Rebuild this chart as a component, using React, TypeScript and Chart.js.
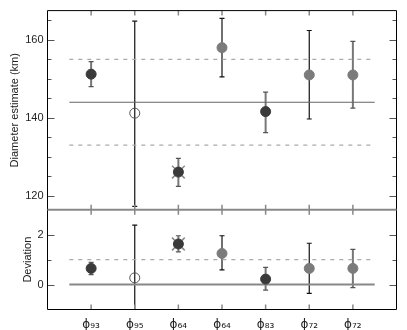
import React, { useEffect, useRef } from "react";
import { Chart, registerables } from "chart.js";

Chart.register(...registerables);

// ---- data ----
const xPositions = [1, 2, 3, 4, 5, 6, 7];
const xLabels = ["ϕ₉₃", "ϕ₉₅", "ϕ₆₄", "ϕ₆₄", "ϕ₈₃", "ϕ₇₂", "ϕ₇₂"];

const diameter = [151.2, 141.2, 126.1, 158.0, 141.6, 151.0, 151.0];
const diameterLow = [148.0, 117.3, 122.4, 150.5, 136.2, 139.7, 142.5];
const diameterHigh = [154.4, 164.8, 129.6, 165.5, 146.6, 162.4, 159.6];

const deviation = [0.65, 0.27, 1.63, 1.25, 0.22, 0.65, 0.65];
const deviationLow = [0.4, -2.0, 1.31, 0.59, -0.22, -0.35, -0.12];
const deviationHigh = [0.89, 2.39, 1.96, 1.96, 0.69, 1.66, 1.41];

const errorKind = ["gray", "black", "gray", "black", "gray", "black", "gray"];
const markerKind = ["dark", "open", "darkx", "gray", "dark", "gray", "gray"];

const meanDiameter = 144;
const diameterBand = [133, 155];
const deviationZero = 0;
const deviationOne = 1;
const refSpan = [0.5, 7.5];

const topMajor = [120, 140, 160];
const topMinor = [125, 130, 135, 145, 150, 155, 165];
const bottomMajor = [0, 2];
const bottomMinor = [1];

const topRange = [116.4, 167.5];
const bottomRange = [-1, 3];
const xRange = [0, 8];

const DARK = "#3a3a3a";
const GRAY = "#7b7b7b";

function pts(vals: number[], filter: (i: number) => boolean) {
  const out: { x: number; y: number }[] = [];
  vals.forEach((v, i) => {
    if (filter(i)) out.push({ x: xPositions[i], y: v });
  });
  return out;
}

function refLine(y: number, axis: string, color: string, width: number, dash: number[]) {
  return {
    type: "line" as const,
    data: [
      { x: refSpan[0], y },
      { x: refSpan[1], y },
    ],
    yAxisID: axis,
    showLine: true,
    borderColor: color,
    borderWidth: width,
    borderDash: dash,
    pointRadius: 0,
    fill: false,
    order: 10,
  };
}

function markerSets(vals: number[], axis: string) {
  return [
    {
      data: pts(vals, (i) => markerKind[i] === "darkx"),
      yAxisID: axis,
      pointStyle: "crossRot",
      pointRadius: 9,
      borderColor: "#8a8a8a",
      borderWidth: 1.5,
      backgroundColor: "#8a8a8a",
      order: 5,
    },
    {
      data: pts(vals, (i) => markerKind[i] === "dark" || markerKind[i] === "darkx"),
      yAxisID: axis,
      pointStyle: "circle",
      pointRadius: 5,
      backgroundColor: DARK,
      borderColor: DARK,
      borderWidth: 1,
      order: 1,
    },
    {
      data: pts(vals, (i) => markerKind[i] === "gray"),
      yAxisID: axis,
      pointStyle: "circle",
      pointRadius: 5,
      backgroundColor: GRAY,
      borderColor: GRAY,
      borderWidth: 1,
      order: 1,
    },
    {
      data: pts(vals, (i) => markerKind[i] === "open"),
      yAxisID: axis,
      pointStyle: "circle",
      pointRadius: 5,
      backgroundColor: "rgba(0,0,0,0)",
      borderColor: "#555",
      borderWidth: 1,
      order: 1,
    },
  ];
}

const panelPlugin = {
  id: "panelDecor",
  beforeDatasetsDraw(chart: any) {
    const ctx = chart.ctx as CanvasRenderingContext2D;
    const { left, right } = chart.chartArea;
    const xs = chart.scales.x;
    const drawErr = (ys: any, lo: number[], hi: number[]) => {
      xPositions.forEach((xv, i) => {
        const px = xs.getPixelForValue(xv);
        const y1 = ys.getPixelForValue(lo[i]);
        const y2 = ys.getPixelForValue(hi[i]);
        const black = errorKind[i] === "black";
        ctx.strokeStyle = black ? "#111" : "#777";
        ctx.lineWidth = black ? 1.2 : 2;
        ctx.beginPath();
        ctx.moveTo(px, y1);
        ctx.lineTo(px, y2);
        ctx.stroke();
        ctx.lineWidth = 1.2;
        ctx.strokeStyle = black ? "#111" : "#555";
        ctx.beginPath();
        ctx.moveTo(px - 2.5, y1);
        ctx.lineTo(px + 2.5, y1);
        ctx.moveTo(px - 2.5, y2);
        ctx.lineTo(px + 2.5, y2);
        ctx.stroke();
      });
    };
    ctx.save();
    ctx.beginPath();
    ctx.rect(left, chart.scales.y.top, right - left, chart.scales.y.bottom - chart.scales.y.top);
    ctx.clip();
    drawErr(chart.scales.y, diameterLow, diameterHigh);
    ctx.restore();
    ctx.save();
    ctx.beginPath();
    ctx.rect(left, chart.scales.y2.top, right - left, chart.scales.y2.bottom - chart.scales.y2.top);
    ctx.clip();
    drawErr(chart.scales.y2, deviationLow, deviationHigh);
    ctx.restore();
  },
  afterDatasetsDraw(chart: any) {
    const ctx = chart.ctx as CanvasRenderingContext2D;
    const { left, right, top, bottom } = chart.chartArea;
    const xs = chart.scales.x;
    const yTop = chart.scales.y;
    const yBot = chart.scales.y2;
    const sep = yTop.bottom;
    ctx.save();
    const yTicks = (ys: any, vals: number[], len: number) => {
      ctx.strokeStyle = "#555";
      ctx.lineWidth = 1;
      ctx.beginPath();
      vals.forEach((v) => {
        const py = Math.round(ys.getPixelForValue(v)) + 0.5;
        ctx.moveTo(left, py);
        ctx.lineTo(left + len, py);
        ctx.moveTo(right, py);
        ctx.lineTo(right - len, py);
      });
      ctx.stroke();
    };
    yTicks(yTop, topMajor, 7);
    yTicks(yTop, topMinor, 4);
    yTicks(yBot, bottomMajor, 7);
    yTicks(yBot, bottomMinor, 4);
    ctx.strokeStyle = "#888";
    ctx.lineWidth = 1.5;
    ctx.beginPath();
    xPositions.forEach((xv) => {
      const px = xs.getPixelForValue(xv);
      ctx.moveTo(px, top);
      ctx.lineTo(px, top + 5);
      ctx.moveTo(px, sep - 5);
      ctx.lineTo(px, sep + 5);
      ctx.moveTo(px, bottom);
      ctx.lineTo(px, bottom - 5);
    });
    ctx.stroke();
    ctx.strokeStyle = "#000";
    ctx.lineWidth = 1;
    ctx.beginPath();
    ctx.moveTo(left, top);
    ctx.lineTo(right, top);
    ctx.lineTo(right, bottom);
    ctx.lineTo(left, bottom);
    ctx.lineTo(left, top);
    ctx.stroke();
    ctx.strokeStyle = "#888";
    ctx.lineWidth = 2;
    ctx.beginPath();
    ctx.moveTo(left, sep);
    ctx.lineTo(right, sep);
    ctx.stroke();
    ctx.restore();
  },
};

export default function App() {
  const ref = useRef<HTMLCanvasElement | null>(null);
  useEffect(() => {
    document.body.style.margin = "0";
    if (!ref.current) return;
    const tickFont = { family: "'Liberation Sans', Arial, sans-serif", size: 11 };
    const chart = new Chart(ref.current, {
      type: "scatter",
      data: {
        datasets: [
          refLine(meanDiameter, "y", "#666", 1.2, []),
          refLine(diameterBand[0], "y", "#aaa", 1.2, [4, 5]),
          refLine(diameterBand[1], "y", "#aaa", 1.2, [4, 5]),
          refLine(deviationZero, "y2", "#888", 2, []),
          refLine(deviationOne, "y2", "#aaa", 1.2, [4, 5]),
          ...markerSets(diameter, "y"),
          ...markerSets(deviation, "y2"),
        ] as any,
      },
      options: {
        animation: false,
        responsive: false,
        events: [],
        layout: { padding: { top: 4.5, right: 3.5, left: 0, bottom: 0 } },
        plugins: { legend: { display: false }, tooltip: { enabled: false } },
        scales: {
          x: {
            type: "linear",
            min: xRange[0],
            max: xRange[1],
            grid: { display: false, drawTicks: false },
            border: { display: false },
            afterBuildTicks: (s: any) => {
              s.ticks = xPositions.map((v) => ({ value: v }));
            },
            afterFit: (s: any) => {
              s.height = 20.5;
            },
            ticks: {
              autoSkip: false,
              maxRotation: 0,
              padding: 8,
              color: "#222",
              font: { family: "'DejaVu Sans', sans-serif", size: 12 },
              callback: (v: any) => xLabels[xPositions.indexOf(Number(v))] ?? "",
            },
          },
          y: {
            type: "linear",
            position: "left",
            stack: "panels",
            stackWeight: 2,
            weight: 1,
            min: topRange[0],
            max: topRange[1],
            grid: { display: false, drawTicks: false },
            border: { display: false },
            afterBuildTicks: (s: any) => {
              s.ticks = topMajor.map((v) => ({ value: v }));
            },
            afterFit: (s: any) => {
              s.width = 47.5;
            },
            ticks: { padding: 4, color: "#222", font: tickFont, callback: (v: any) => String(v) },
            title: {
              display: true,
              text: "Diameter estimate (km)",
              color: "#222",
              font: tickFont,
              padding: { top: 8, bottom: 0 },
            },
          },
          y2: {
            type: "linear",
            position: "left",
            stack: "panels",
            stackWeight: 1,
            weight: 0,
            min: bottomRange[0],
            max: bottomRange[1],
            grid: { display: false, drawTicks: false },
            border: { display: false },
            afterBuildTicks: (s: any) => {
              s.ticks = bottomMajor.map((v) => ({ value: v }));
            },
            afterFit: (s: any) => {
              s.width = 47.5;
            },
            ticks: { padding: 4, color: "#222", font: tickFont, callback: (v: any) => String(v) },
            title: {
              display: true,
              text: "Deviation",
              color: "#222",
              font: tickFont,
              padding: { top: 21, bottom: 0 },
            },
          },
        },
      } as any,
      plugins: [panelPlugin],
    });
    return () => chart.destroy();
  }, []);
  return (
    <div style={{ width: 407, height: 330 }}>
      <canvas ref={ref} width={407} height={330} />
    </div>
  );
}
